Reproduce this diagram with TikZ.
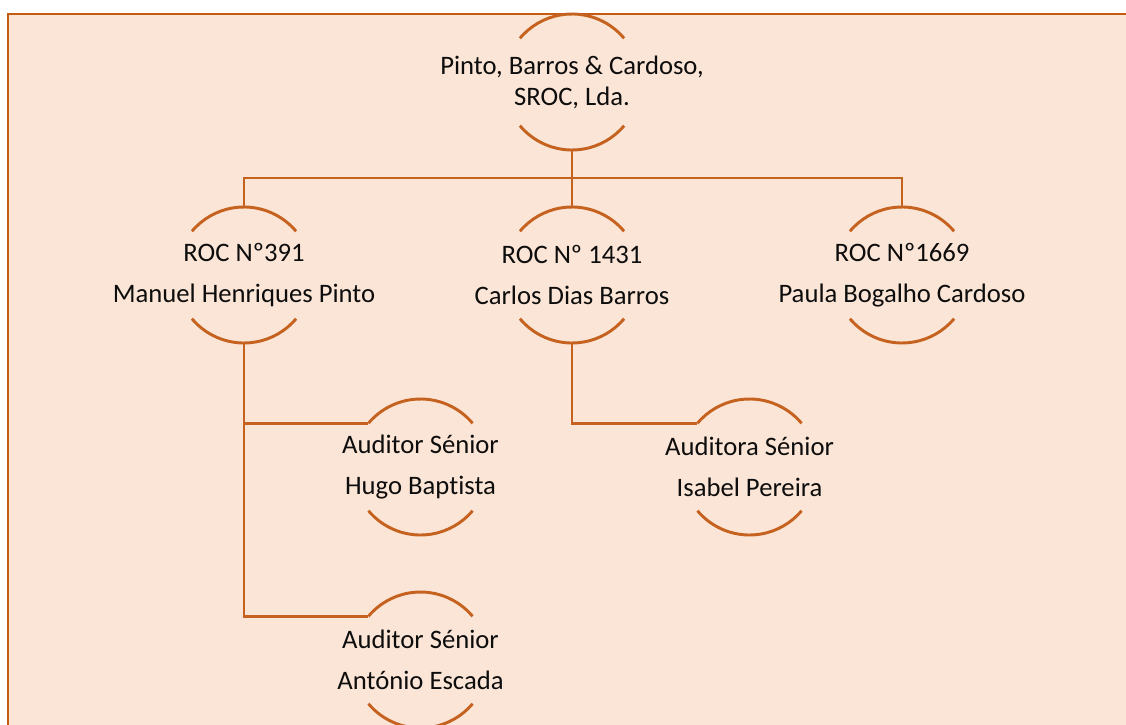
\documentclass[tikz,border=0pt]{standalone}
\usepackage{fontspec}
\setmainfont[Ligatures={NoCommon,NoRare}]{Carlito}
\definecolor{framec}{HTML}{C55A11}
\definecolor{linec}{HTML}{C5621F}
\definecolor{bgc}{HTML}{FBE5D6}
\begin{document}
\begin{tikzpicture}[x=0.75pt,y=0.75pt,
  unit/.style={circle,minimum size=102pt,inner sep=0pt,outer sep=0pt,draw=none},
  lbl/.style={align=center,inner sep=0pt,font=\fontsize{20}{23.25}\selectfont,text=black!95},
  conn/.style={draw=linec,line width=2.2pt}]
\useasboundingbox (0,0) rectangle (1126,-724);
\fill[white] (0,0) rectangle (1126,-724);
\draw[draw=framec,fill=bgc,line width=2.2pt] (8,-14) rectangle (1140,-740);

\node[unit,label={[lbl]center:{Pinto, Barros \& Cardoso,\\SROC, Lda.}}] (top) at (572,-82) {};
\node[unit,label={[lbl]center:{ROC Nº391\\[7.5pt]Manuel Henriques Pinto}}] (m) at (244,-275) {};
\node[unit,label={[lbl]center:{ROC Nº 1431\\[7.5pt]Carlos Dias Barros}}] (c) at (572,-275) {};
\node[unit,label={[lbl]center:{ROC Nº1669\\[7.5pt]Paula Bogalho Cardoso}}] (p) at (902,-275) {};
\node[unit,label={[lbl]center:{Auditor Sénior\\[7.5pt]Hugo Baptista}}] (h) at (420.5,-467) {};
\node[unit,label={[lbl]center:{Auditora Sénior\\[7.5pt]Isabel Pereira}}] (i) at (749.5,-467) {};
\node[unit,label={[lbl]center:{Auditor Sénior\\[7.5pt]António Escada}}] (a) at (420.5,-660) {};

\foreach \n in {top,m,c,p,h,i,a} {
  \draw[conn] (\n.40) arc[start angle=40,end angle=140,radius=51pt];
  \draw[conn] (\n.220) arc[start angle=220,end angle=320,radius=51pt];
}

\coordinate (bus) at (572,-178);
\draw[conn] (top.south) -- (bus);
\draw[conn] (m.north) -- (m.north |- bus) -- (p.north |- bus) -- (p.north);
\draw[conn] (c.north) -- (bus);
\draw[conn] (m.south) |- (h.140);
\draw[conn] (m.south) |- (a.140);
\draw[conn] (c.south) |- (i.140);
\end{tikzpicture}
\end{document}
